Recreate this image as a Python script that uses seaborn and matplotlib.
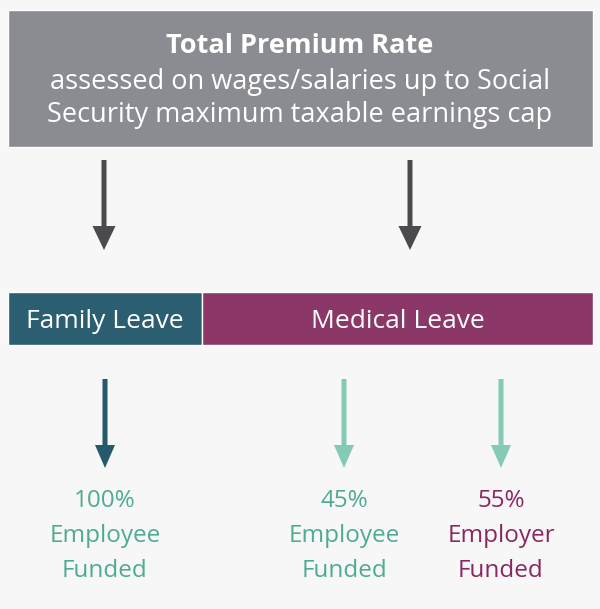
import matplotlib
matplotlib.use("Agg")
import matplotlib.pyplot as plt
import seaborn as sns

# diagram content
header_title = "Total Premium Rate"
header_sub = ["assessed on wages/salaries up to Social",
              "Security maximum taxable earnings cap"]
segments = ["Family Leave", "Medical Leave"]
segment_shares = [33.2, 66.8]          # share of the bar width (%)
segment_colors = ["#2a5e70", "#8b3868"]

funding_pct = [100, 45, 55]
funding_who = ["Employee", "Employee", "Employer"]
funding_text_colors = ["#4eab93", "#4eab93", "#8a2762"]
funding_arrow_colors = ["#245a6b", "#84cab7", "#84cab7"]
funding_x = [105, 344, 501]
top_arrow_x = [104, 410]

sns.set_theme(style="white")
plt.rcParams["font.family"] = ["Open Sans", "DejaVu Sans"]

fig = plt.figure(figsize=(6, 6.09), dpi=100)
fig.patch.set_facecolor("#f7f7f7")
ax = fig.add_axes([0, 0, 1, 1])
ax.set_facecolor("#f7f7f7")
ax.set_xlim(0, 600)
ax.set_ylim(609, 0)
ax.axis("off")

# header box
ax.barh(78.5, 585, left=8, height=137, color="#8b8c91")
ax.text(300, 46, header_title, ha="center", va="center", color="white",
        fontsize=19.5, fontweight="bold")
for i, line in enumerate(header_sub):
    ax.text(300, 82 + i * 33, line, ha="center", va="center",
            color="white", fontsize=19.5)

# arrows from header
for x in top_arrow_x:
    ax.arrow(x, 160, 0, 90, width=5, head_width=23, head_length=24,
             length_includes_head=True, color="#4b4b4f", lw=0)

# split bar
left = 8
for name, share, col in zip(segments, segment_shares, segment_colors):
    w = 585 * share / 100
    ax.barh(318.5, w, left=left, height=53, color=col)
    ax.text(left + w / 2, 321, name, ha="center", va="center",
            color="white", fontsize=19)
    left += w

# funding arrows and labels
for x, pct, who, tc, ac in zip(funding_x, funding_pct, funding_who,
                               funding_text_colors, funding_arrow_colors):
    ax.arrow(x, 379, 0, 89, width=5, head_width=20, head_length=23,
             length_includes_head=True, color=ac, lw=0)
    for j, line in enumerate([f"{pct}%", who, "Funded"]):
        ax.text(x, 501 + j * 35, line, ha="center", va="center",
                color=tc, fontsize=17.5)

fig.savefig("out.png", dpi=100, facecolor=fig.get_facecolor())
